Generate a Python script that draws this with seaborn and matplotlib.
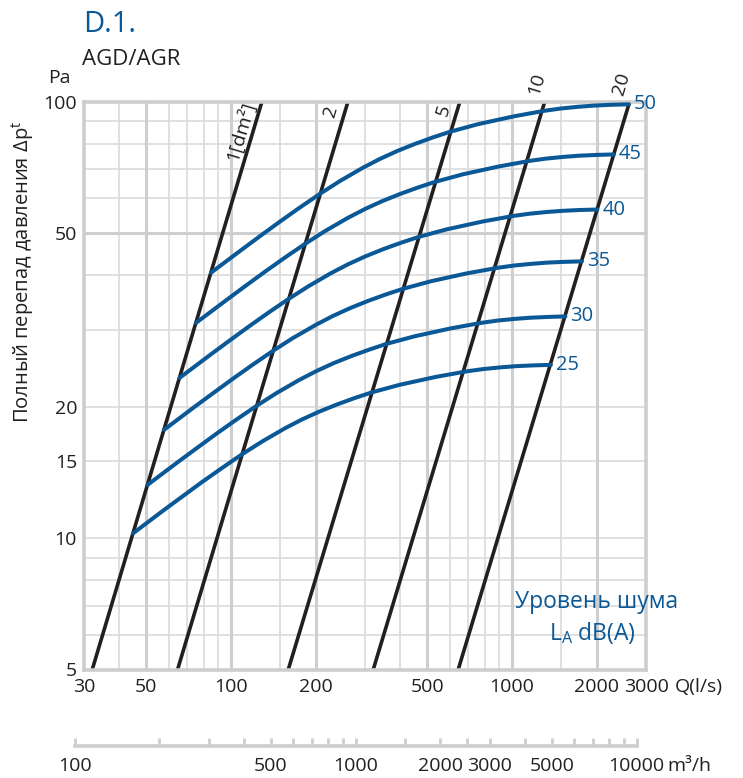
import numpy as np
import pandas as pd
import seaborn as sns
import matplotlib.pyplot as plt

BLUE = "#0b5896"
BLACK = "#231f20"
GRID = "#dadadb"
FRAME = "#cdced0"

# free area lines [dm2]: air flow (l/s) at 5 Pa and at 100 Pa
areas = [1, 2, 5, 10, 20]
q_at_5pa = [32.1, 64.6, 160, 321, 644]
q_at_100pa = [129, 261, 653, 1309, 2625]

# noise level curves L_A dB(A): flow (l/s) and total pressure drop (Pa)
levels = [25, 30, 35, 40, 45, 50]
q_25 = [44.8, 57.6, 66.91, 78.8, 92.93, 109.4, 128.9, 155.6, 178.9, 205.7, 238.4,
        276.3, 317.5, 399.4, 536.4, 691.7, 788.5, 906.4, 1033.3, 1187.9, 1376.2]
dp_25 = [10.25, 11.58, 12.43, 13.43, 14.47, 15.55, 16.63, 17.84, 18.69, 19.47, 20.23,
         20.94, 21.57, 22.45, 23.40, 24.10, 24.38, 24.60, 24.76, 24.86, 24.93]
q_30 = [50.5, 64.9, 75.36, 88.8, 104.7, 123.3, 145.2, 175.3, 201.5, 231.7, 268.4,
        311.1, 357.6, 449.8, 604.1, 778.9, 888.0, 1020.8, 1163.7, 1337.8, 1550.0]
dp_30 = [13.24, 14.95, 16.05, 17.34, 18.69, 20.08, 21.48, 23.04, 24.13, 25.15, 26.12,
         27.03, 27.85, 28.98, 30.21, 31.12, 31.49, 31.77, 31.97, 32.10, 32.19]
q_35 = [57.8, 74.3, 86.29, 101.7, 119.8, 141.1, 166.2, 200.7, 230.7, 265.3, 307.4,
        356.2, 409.5, 515.0, 691.7, 891.9, 1016.8, 1168.9, 1332.5, 1531.8, 1774.7]
dp_35 = [17.70, 19.99, 21.46, 23.18, 24.98, 26.84, 28.72, 30.80, 32.27, 33.62, 34.93,
         36.15, 37.23, 38.75, 40.40, 41.61, 42.10, 42.47, 42.75, 42.92, 43.04]
q_40 = [65.6, 84.3, 97.93, 115.4, 136.0, 160.2, 188.7, 227.8, 261.8, 301.0, 348.8,
        404.3, 464.7, 584.5, 785.0, 1012.2, 1154.0, 1326.6, 1512.2, 1738.4, 2014.2]
dp_40 = [23.27, 26.27, 28.21, 30.47, 32.84, 35.28, 37.74, 40.49, 42.41, 44.19, 45.91,
         47.51, 48.94, 50.93, 53.09, 54.69, 55.33, 55.83, 56.18, 56.42, 56.57]
q_45 = [75.1, 96.6, 112.1, 132.1, 155.7, 183.4, 216.0, 260.8, 299.8, 344.7, 399.4,
        462.9, 532.1, 669.2, 898.9, 1159, 1321.3, 1519, 1731.6, 1990.6, 2306]
dp_45 = [31.11, 35.13, 37.72, 40.74, 43.91, 47.18, 50.47, 54.14, 56.71, 59.09, 61.39,
         63.53, 65.44, 68.11, 71.00, 73.13, 73.99, 74.65, 75.13, 75.44, 75.64]
q_50 = [84.9, 109.2, 126.8, 149.4, 176.1, 207.4, 244.3, 294.9, 339.0, 389.8, 451.7,
        523.5, 601.7, 756.8, 1016.5, 1310.7, 1494.2, 1717.7, 1958.1, 2251, 2608]
dp_50 = [40.53, 45.76, 49.14, 53.07, 57.20, 61.45, 65.74, 70.52, 73.87, 76.97, 79.96,
         82.75, 85.24, 88.72, 92.48, 95.26, 96.38, 97.24, 97.86, 98.27, 98.53]

x_labels = [30, 50, 100, 200, 500, 1000, 2000, 3000]
x_grid_major = [50, 100, 200, 500, 1000, 2000]
x_grid_minor = [40, 60, 70, 80, 90, 150, 300, 400, 600, 700, 800, 900, 1500]
y_labels = [5, 10, 15, 20, 50, 100]
y_grid_major = [50]
y_grid_minor = [6, 7, 8, 9, 10, 15, 20, 30, 40, 60, 70, 80, 90]
m3h_ticks = [100, 200, 300, 400, 500, 600, 700, 800, 900, 1000, 1500, 2000,
             2500, 3000, 4000, 5000, 6000, 7000, 8000, 9000, 10000]
m3h_labels = [100, 500, 1000, 2000, 3000, 5000, 10000]

sns.set_theme(style="white")
plt.rcParams["font.family"] = ["Open Sans", "DejaVu Sans"]
plt.rcParams["mathtext.default"] = "regular"

lines_df = pd.DataFrame({
    "area": np.repeat(areas, 2),
    "q": np.ravel(np.column_stack([q_at_5pa, q_at_100pa])),
    "dp": [5, 100] * len(areas),
})

curves = {25: (q_25, dp_25), 30: (q_30, dp_30), 35: (q_35, dp_35),
          40: (q_40, dp_40), 45: (q_45, dp_45), 50: (q_50, dp_50)}
noise_df = pd.concat(
    [pd.DataFrame({"level": lvl, "q": q, "dp": dp}) for lvl, (q, dp) in curves.items()],
    ignore_index=True,
)

W, H = 743, 778
fig = plt.figure(figsize=(W / 100, H / 100), dpi=100)
x0, x1, y0, y1 = 84, 646, 101.5, 669.5
ax = fig.add_axes([x0 / W, 1 - y1 / H, (x1 - x0) / W, (y1 - y0) / H])
ax.set_xscale("log")
ax.set_yscale("log")
ax.set_xlim(30, 3000)
ax.set_ylim(5, 100)

# grid
for v in x_grid_minor:
    ax.axvline(v, color=GRID, lw=1.2, zorder=0)
for v in y_grid_minor:
    ax.axhline(v, color=GRID, lw=1.2, zorder=0)
for v in x_grid_major:
    ax.axvline(v, color=FRAME, lw=2.2, zorder=0)
for v in y_grid_major:
    ax.axhline(v, color=FRAME, lw=2.2, zorder=0)

sns.lineplot(data=lines_df, x="q", y="dp", hue="area",
             palette={a: BLACK for a in areas}, estimator=None, sort=False,
             legend=False, lw=2.6, ax=ax, zorder=2)
sns.lineplot(data=noise_df, x="q", y="dp", hue="level",
             palette={l: BLUE for l in levels}, estimator=None, sort=False,
             legend=False, lw=2.9, ax=ax, zorder=3)

for s in ax.spines.values():
    s.set_color(FRAME)
    s.set_linewidth(2.6)

ax.set_xticks(x_labels)
ax.set_xticklabels([str(v) for v in x_labels])
ax.set_yticks(y_labels)
ax.set_yticklabels([str(v) for v in y_labels])
ax.minorticks_off()
ax.tick_params(axis="both", length=0, labelsize=14, colors=BLACK)
ax.tick_params(axis="x", pad=6)
ax.tick_params(axis="y", pad=5)
ax.set_xlabel("")
ax.set_ylabel("")

# area labels along the black lines
p_lo = ax.transData.transform((q_at_5pa[0], 5))
p_hi = ax.transData.transform((q_at_100pa[0], 100))
angle = np.degrees(np.arctan2(p_hi[1] - p_lo[1], p_hi[0] - p_lo[0]))
area_text = ["1[dm²]", "2", "5", "10", "20"]
area_off = [(-15.8, -21.5), (-12.2, -7.0), (-11.5, -6.3), (-5.8, 12.8), (-6.3, 12.8)]
for q, txt, off in zip(q_at_100pa, area_text, area_off):
    ax.annotate(txt, xy=(q, 100), xytext=off, textcoords="offset points",
                rotation=angle, rotation_mode="anchor", ha="center", va="center",
                fontsize=14, color=BLACK, annotation_clip=False)

# noise level labels at curve ends
for lvl, (q, dp) in curves.items():
    ax.annotate(str(lvl), xy=(q[-1], dp[-1]), xytext=(3.5, 0), textcoords="offset points",
                ha="left", va="center", fontsize=14.5, color=BLUE, annotation_clip=False)

ax.text(0.912, 0.108, "Уровень шума", transform=ax.transAxes, ha="center",
        va="baseline", fontsize=16.5, color=BLUE)
ax.text(0.905, 0.052, "L$_{A}$ dB(A)", transform=ax.transAxes, ha="center",
        va="baseline", fontsize=16.5, color=BLUE)

ax.annotate("Q(l/s)", xy=(1, 0), xycoords="axes fraction", xytext=(20.5, -6),
            textcoords="offset points", ha="left", va="top", fontsize=14,
            color=BLACK, annotation_clip=False)

fig.text(83 / W, 1 - 32 / H, "D.1.", fontsize=21, color=BLUE, va="baseline")
fig.text(82 / W, 1 - 65 / H, "AGD/AGR", fontsize=16, color=BLACK, va="baseline")
fig.text(71 / W, 1 - 83 / H, "Pa", fontsize=14, color=BLACK, ha="right", va="baseline")
fig.text(23 / W, 1 - 272 / H, "Полный перепад давления Δp$^{t}$", rotation=90,
         ha="center", va="center", fontsize=14.5, color=BLACK)

# second flow scale in m3/h
decade = (x1 - x0) / np.log10(3000 / 30)
m_left = x0 + decade * np.log10(100 / 3.6 / 30)
m_right = x0 + decade * np.log10(10000 / 3.6 / 30)
ax2 = fig.add_axes([m_left / W, 1 - 746 / H, (m_right - m_left) / W, 0.02])
ax2.set_facecolor("none")
ax2.set_xscale("log")
ax2.set_xlim(100, 10000)
ax2.set_yticks([])
for side in ["top", "left", "right"]:
    ax2.spines[side].set_visible(False)
ax2.spines["bottom"].set_color(FRAME)
ax2.spines["bottom"].set_linewidth(2.6)
ax2.set_xticks(m3h_ticks)
ax2.set_xticklabels([str(v) if v in m3h_labels else "" for v in m3h_ticks])
ax2.minorticks_off()
ax2.tick_params(axis="x", bottom=True, direction="in", length=6, width=2.0,
                color=FRAME, labelsize=14, labelcolor=BLACK, pad=8)
ax2.annotate("m³/h", xy=(1, 0), xycoords="axes fraction", xytext=(22, -8),
             textcoords="offset points", ha="left", va="top", fontsize=14,
             color=BLACK, annotation_clip=False)

fig.savefig("out.png", dpi=100)
